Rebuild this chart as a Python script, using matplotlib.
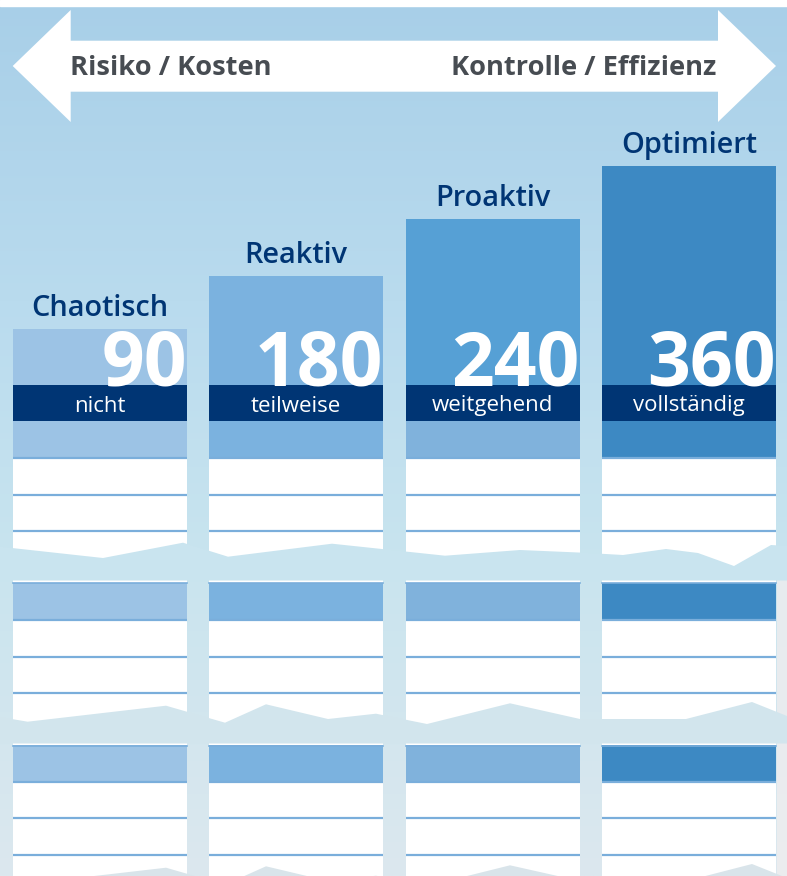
import matplotlib
matplotlib.use("Agg")
import matplotlib.pyplot as plt
import numpy as np
from matplotlib.patches import Polygon, Rectangle
from matplotlib.colors import to_rgb

# ---------------- data ----------------
levels = ["Chaotisch", "Reaktiv", "Proaktiv", "Optimiert"]
values = [90, 180, 240, 360]
degrees = ["nicht", "teilweise", "weitgehend", "vollständig"]
bar_heights = [129, 182, 239, 292]   # px above the base line
left_label = "Risiko / Kosten"
right_label = "Kontrolle / Effizienz"

# ---------------- style ----------------
W, H = 787, 876
top_colors = ["#9cc3e5", "#7bb2df", "#56a0d5", "#3d89c3"]
low_colors = ["#9cc3e5", "#7bb2df", "#80b2dc", "#3d89c3"]
navy = "#003574"
line_col = "#7aaedb"
col_left = [12.7, 209, 405.5, 602]
col_w = 174
base = 458

fig = plt.figure(figsize=(W / 100, H / 100), dpi=100)
ax = fig.add_axes([0, 0, 1, 1])
ax.set_xlim(0, W)
ax.set_ylim(H, 0)
ax.axis("off")

# sky background
stops_y = [0, 300, 550, 876]
stops_c = [to_rgb("#a8cfe8"), to_rgb("#b9dbee"), to_rgb("#c8e4ef"), to_rgb("#dce8ee")]
yy = np.linspace(0, H, 300)
grad = np.zeros((300, 2, 3))
for k in range(3):
    grad[:, :, k] = np.interp(yy, stops_y, [c[k] for c in stops_c])[:, None]
ax.imshow(grad, extent=[0, W, H, 0], aspect="auto", zorder=0)
ax.add_patch(Rectangle((0, 0), W, 6, color="white", zorder=1))
# faint cloud at the right edge
ax.add_patch(Rectangle((777, 575), 10, 301, color="#f1eeee", alpha=0.75, lw=0, zorder=1))

# double arrow
arrow = [(12.7, 66), (70.7, 10), (70.7, 40.7), (718, 40.7), (718, 10), (776, 66),
         (718, 122), (718, 91.7), (70.7, 91.7), (70.7, 122)]
ax.add_patch(Polygon(arrow, closed=True, color="white", lw=0, zorder=2))
ax.text(70, 68, left_label, ha="left", va="center", fontsize=19.6, fontweight="bold",
        color="#474c52", family="Open Sans", zorder=3)
ax.text(716, 68, right_label, ha="right", va="center", fontsize=19.6, fontweight="bold",
        color="#474c52", family="Open Sans", zorder=3)

centers = [l + col_w / 2 for l in col_left]
tops = [base - h for h in bar_heights]

# white table area under each column
for l in col_left:
    ax.add_patch(Rectangle((l, base), col_w, H - base, color="white", lw=0, zorder=2))

# bars
ax.bar(centers, bar_heights, width=col_w, bottom=tops, color=top_colors, zorder=3, lw=0)
ax.bar(centers, [base - 421] * 4, width=col_w, bottom=421, color=low_colors, zorder=3.5, lw=0)
ax.bar(centers, [36] * 4, width=col_w, bottom=385, color=navy, zorder=4, lw=0)

# coloured bands in lower sections
for b in (582.5, 745):
    ax.bar(centers, [37.5] * 4, width=col_w, bottom=b, color=low_colors, zorder=3, lw=0)
    for l in col_left:
        ax.plot([l, l + col_w], [b + 0.8, b + 0.8], color=line_col, lw=1.2, zorder=3.6)

# row lines
for y in [458, 494.5, 531, 620, 657, 693, 782, 818, 855]:
    for l in col_left:
        ax.plot([l, l + col_w], [y, y], color=line_col, lw=1.6, zorder=3.6,
                solid_capstyle="butt")

# jagged translucent mountain bands
band1_x = [0, 103, 183, 228, 332, 445, 520, 583, 623, 666, 698, 734, 771, 787]
band1_y = [546.7, 558, 542.7, 556.7, 543.7, 555.7, 550, 552.7, 555, 549, 553, 566, 545, 546]
band2_x = [0, 27.6, 166, 225, 266, 328, 376, 427, 510, 580, 686, 752, 787]
band2_y = [717, 721.7, 705.7, 722.7, 704.3, 719, 713.7, 724, 703.3, 719, 719, 702, 716]
for bx, by, bot, c in [(band1_x, band1_y, 580.5, "#c9e4ef"),
                       (band2_x, band2_y, 743.5, "#d2e5ed"),
                       (band2_x, [v + 162 for v in band2_y], 905, "#d9e4ea")]:
    pts = list(zip(bx, by)) + [(W, bot), (0, bot)]
    ax.add_patch(Polygon(pts, closed=True, color=c, lw=0, zorder=5))

# labels
for i in range(4):
    ax.text(centers[i], tops[i] - 13, levels[i], ha="center", va="baseline",
            fontsize=20.8, fontweight="semibold", color=navy, family="Open Sans", zorder=6)
    ax.text(col_left[i] + col_w, 386, str(values[i]), ha="right", va="baseline",
            fontsize=54, fontweight="bold", color="white", family="Open Sans", zorder=6)
    ax.text(centers[i], 411.5, degrees[i], ha="center", va="baseline",
            fontsize=16, color="white", family="Open Sans", zorder=6)

fig.savefig("out.png", dpi=100)
